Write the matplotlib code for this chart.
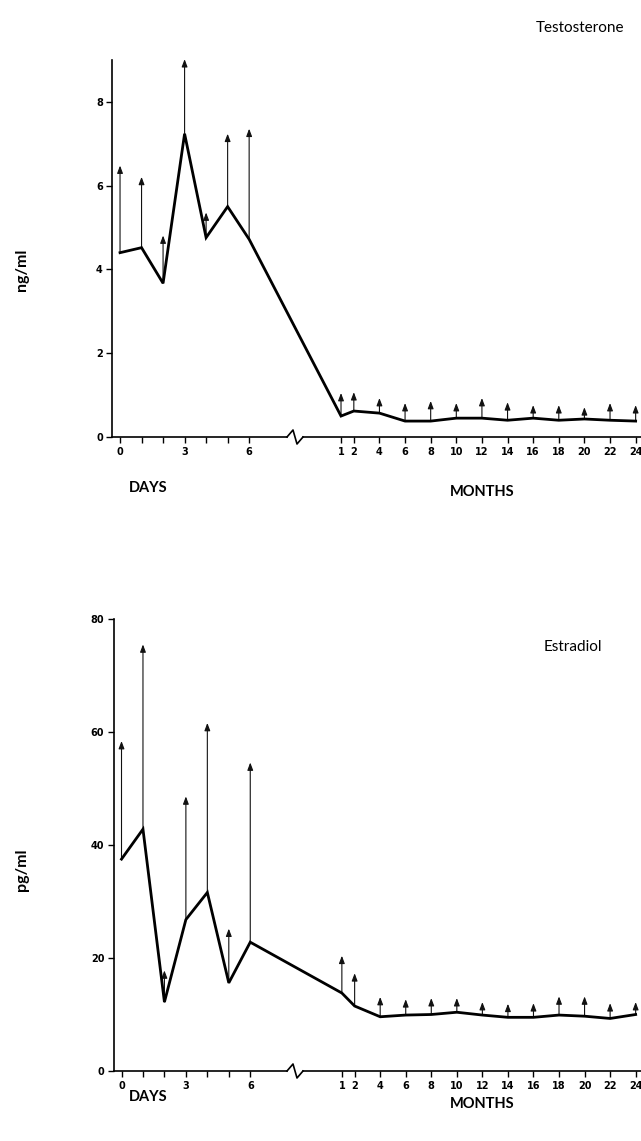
import matplotlib
matplotlib.use("Agg")
import matplotlib.pyplot as plt
from matplotlib import font_manager
import numpy as np

# ---------------- data ----------------
day_points = [0, 1, 2, 3, 4, 5, 6]
month_points = [1, 2, 4, 6, 8, 10, 12, 14, 16, 18, 20, 22, 24]

# Testosterone (ng/ml)
testo_day_mean = [4.40, 4.52, 3.67, 7.24, 4.76, 5.50, 4.72]
testo_day_top = [6.48, 6.21, 4.81, 9.02, 5.36, 7.24, 7.36]
testo_month_mean = [0.50, 0.62, 0.57, 0.38, 0.38, 0.45, 0.45, 0.40, 0.45, 0.40, 0.43, 0.40, 0.38]
testo_month_top = [1.05, 1.07, 0.93, 0.81, 0.86, 0.81, 0.93, 0.83, 0.76, 0.76, 0.71, 0.81, 0.76]

# Estradiol (pg/ml)
estra_day_mean = [37.5, 42.8, 12.2, 26.8, 31.6, 15.6, 22.8]
estra_day_top = [58.4, 75.5, 17.8, 48.6, 61.6, 25.2, 54.6]
estra_month_mean = [13.8, 11.5, 9.6, 9.9, 10.0, 10.4, 9.9, 9.5, 9.5, 9.9, 9.7, 9.3, 10.0]
estra_month_top = [20.4, 17.3, 13.1, 12.7, 12.9, 12.9, 12.2, 11.9, 12.0, 13.2, 13.2, 12.0, 12.2]

day_tick_labels = ["0", "", "", "3", "", "", "6"]
month_tick_labels = [str(m) for m in month_points]

# --------------- helpers ---------------
MONTH_OFFSET = 9.674
MONTH_SCALE = 0.5953


def month_pos(m):
    return MONTH_OFFSET + MONTH_SCALE * np.asarray(m, dtype=float)


def pick(fams):
    avail = {f.name for f in font_manager.fontManager.ttflist}
    return [f for f in fams if f in avail] + ["DejaVu Sans"]


tick_font = pick(["Liberation Sans Narrow"])
label_font = pick(["Lato", "Open Sans"])

W, H = 641, 1141
fig = plt.figure(figsize=(W / 100, H / 100), dpi=100)


def px_axes(left, top, right, bottom):
    return fig.add_axes([left / W, 1 - bottom / H, (right - left) / W, (bottom - top) / H])


def draw_panel(ax, dmean, dtop, mmean, mtop, ymax, yticks, break_x_px):
    xs = np.concatenate([np.asarray(day_points, float), month_pos(month_points)])
    means = np.concatenate([dmean, mmean])
    tops = np.concatenate([dtop, mtop])
    ax.plot(xs, means, color="black", lw=2.0, solid_joinstyle="miter", zorder=3,
            clip_on=False)
    for x, m, t in zip(xs, means, tops):
        ax.annotate("", xy=(x, t), xytext=(x, m), annotation_clip=False,
                    arrowprops=dict(arrowstyle="-|>,head_length=0.45,head_width=0.17",
                                    color="#111111", lw=0.8, shrinkA=0, shrinkB=0),
                    zorder=2)
    ax.set_xlim(-0.35, 24.21)
    ax.set_ylim(0, ymax)
    for s in ["top", "right", "bottom"]:
        ax.spines[s].set_visible(False)
    ax.spines["left"].set_linewidth(1.2)
    ax.set_yticks(yticks)
    ax.set_yticklabels([str(v) for v in yticks], fontfamily=tick_font,
                       fontweight="bold", fontsize=7)
    xt = list(day_points) + list(month_pos(month_points))
    ax.set_xticks(xt)
    ax.set_xticklabels(day_tick_labels + month_tick_labels, fontfamily=tick_font,
                       fontweight="bold", fontsize=7)
    ax.tick_params(axis="both", direction="out", length=4, width=1, pad=3)

    # x axis line with break zigzag
    axh = ax.get_position().height * H
    amp = 7.0 / axh
    bx = break_x_px
    x0, x1 = ax.get_xlim()
    axw = ax.get_position().width * W
    left_px = ax.get_position().x0 * W

    def dx(px):
        return x0 + (px - left_px) / axw * (x1 - x0)

    trans = ax.get_xaxis_transform()
    ax.plot([x0, dx(bx)], [0, 0], color="black", lw=1.2, transform=trans, clip_on=False)
    ax.plot([dx(bx), dx(bx + 6), dx(bx + 10), dx(bx + 16)],
            [0, amp, -amp, 0], color="black", lw=1.2, transform=trans, clip_on=False)
    ax.plot([dx(bx + 16), x1], [0, 0], color="black", lw=1.2, transform=trans, clip_on=False)


# top panel
ax1 = px_axes(112.5, 60, 641, 437)
draw_panel(ax1, testo_day_mean, testo_day_top, testo_month_mean, testo_month_top,
           9.0, [0, 2, 4, 6, 8], 287)

# bottom panel
ax2 = px_axes(114, 619, 641, 1071)
draw_panel(ax2, estra_day_mean, estra_day_top, estra_month_mean, estra_month_top,
           80, [0, 20, 40, 60, 80], 287)

# text labels
fig.text(580 / W, 1 - 28 / H, "Testosterone", fontsize=11, ha="center", va="center",
         fontfamily=label_font)
fig.text(573 / W, 1 - 647 / H, "Estradiol", fontsize=11, ha="center", va="center",
         fontfamily=label_font)
fig.text(22 / W, 1 - 270 / H, "ng/ml", fontsize=11.5, rotation=90, ha="center", va="center",
         fontweight="bold", fontfamily=label_font)
fig.text(22 / W, 1 - 870 / H, "pg/ml", fontsize=11.5, rotation=90, ha="center", va="center",
         fontweight="bold", fontfamily=label_font)
fig.text(148 / W, 1 - 488 / H, "DAYS", fontsize=10.5, ha="center", va="center",
         fontweight="bold", fontfamily=label_font)
fig.text(482 / W, 1 - 492 / H, "MONTHS", fontsize=10.5, ha="center", va="center",
         fontweight="bold", fontfamily=label_font)
fig.text(148 / W, 1 - 1097 / H, "DAYS", fontsize=10.5, ha="center", va="center",
         fontweight="bold", fontfamily=label_font)
fig.text(482 / W, 1 - 1104 / H, "MONTHS", fontsize=10.5, ha="center", va="center",
         fontweight="bold", fontfamily=label_font)

fig.savefig("out.png", dpi=100)
